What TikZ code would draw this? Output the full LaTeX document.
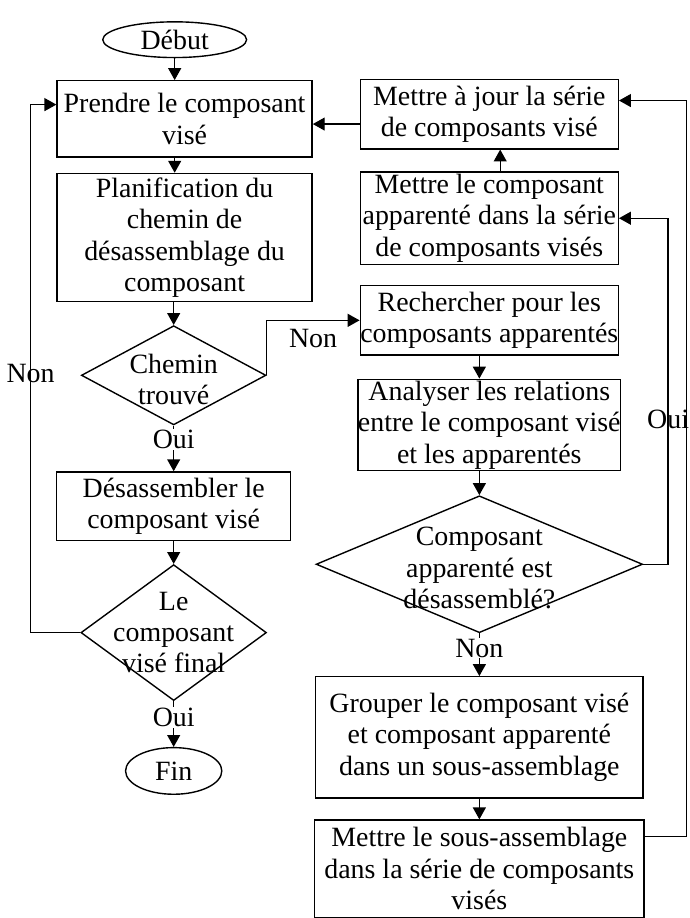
\documentclass[tikz,border=0pt]{standalone}
\usepackage{fontspec}
\setmainfont{Liberation Serif}
\usetikzlibrary{shapes,arrows.meta,positioning}

\begin{document}
\begin{tikzpicture}[
    x=0.02cm, y=-0.02cm,
    font=\fontsize{16}{18}\selectfont,
    node distance=0.4cm,
    box/.style={rectangle, draw, line width=0.8pt, inner sep=0pt, align=center},
    terminal/.style={ellipse, draw, line width=0.8pt, inner sep=0pt},
    decision/.style={diamond, draw, line width=0.8pt, inner sep=0pt},
    dtext/.style={align=center, inner sep=0pt},
    tag/.style={inner sep=0.5pt},
    arrow/.style={-{Triangle[length=0.24cm,width=0.26cm]}, line width=0.8pt}
]
    \fill[white] (0,0) rectangle (693,918);

    % Left column
    \node[terminal, minimum width=2.9cm, minimum height=0.72cm] (debut) at (176,40) {Début};
    \node[box, minimum width=5.14cm, minimum height=1.54cm, below=0.44cm of debut, xshift=0.2cm] (prendre) {Prendre le composant\\visé};
    \node[box, minimum width=5.14cm, minimum height=2.58cm, below=0.3cm of prendre] (planif) {Planification du\\chemin de\\désassemblage du\\composant};
    \node[decision, minimum width=3.72cm, minimum height=2cm, below=0.46cm of planif, xshift=-0.22cm] (chemin) {};
    \node[dtext] (chemintxt) at ([yshift=-0.08cm]chemin) {Chemin\\trouvé};
    \node[box, minimum width=4.72cm, minimum height=1.38cm, below=0.92cm of chemin] (desass) {Désassembler le\\composant visé};
    \node[decision, minimum width=3.74cm, minimum height=2.74cm, below=0.46cm of desass] (final) {};
    \node[dtext] (finaltxt) at (final) {Le\\composant\\visé final};
    \node[terminal, minimum width=1.94cm, minimum height=0.94cm, below=0.92cm of final] (fin) {Fin};

    % Right column
    \node[box, minimum width=5.2cm, minimum height=1.4cm] (majour) at (493,115) {Mettre à jour la série\\de composants visé};
    \node[box, minimum width=5.2cm, minimum height=1.86cm, below=0.44cm of majour] (mettrecomp) {Mettre le composant\\apparenté dans la série\\de composants visés};
    \node[box, minimum width=5.2cm, minimum height=1.4cm, below=0.4cm of mettrecomp] (recherche) {Rechercher pour les\\composants apparentés};
    \node[box, minimum width=5.2cm, minimum height=1.84cm, below=0.46cm of recherche] (analyse) {Analyser les relations\\entre le composant visé\\et les apparentés};
    \node[decision, minimum width=6.58cm, minimum height=2.76cm, below=0.48cm of analyse, xshift=-0.2cm] (desok) {};
    \node[dtext] (desoktxt) at ([yshift=-0.08cm]desok) {Composant\\apparenté est\\désassemblé?};
    \node[box, minimum width=6.6cm, minimum height=2.44cm, below=0.86cm of desok] (groupe) {Grouper le composant visé\\et composant apparenté\\dans un sous-assemblage};
    \node[box, minimum width=6.64cm, minimum height=1.96cm, below=0.42cm of groupe] (sousass) {Mettre le sous-assemblage\\dans la série de composants\\visés};

    % Edges, left column
    \draw[arrow] (debut) -- (debut |- prendre.north);
    \draw[arrow] (prendre.south -| debut) -- (planif.north -| debut);
    \draw[arrow] (planif.south -| chemin) -- (chemin);
    \draw[arrow] (chemin) -- node[tag, pos=0.3, fill=white] {Oui} (desass);
    \draw[arrow] (desass) -- (final);
    \draw[arrow] (final) -- node[tag, pos=0.35, fill=white] {Oui} (fin);
    \draw[arrow] (final.west) -- ++(-1cm,0) |- node[tag, pos=0.245] {Non} ([yshift=0.29cm]prendre.west);
    \draw[arrow] (chemin.east) |- node[tag, pos=0.75, below=0.15cm] {Non} (recherche.west);

    % Edges, right column
    \draw[arrow] ([yshift=-0.2cm]majour.west) -- ([yshift=-0.2cm]majour.west -| prendre.east);
    \draw[arrow] ([xshift=0.22cm]mettrecomp.north) -- ([xshift=0.22cm]mettrecomp.north |- majour.south);
    \draw[arrow] (recherche.south -| desok) -- (analyse.north -| desok);
    \draw[arrow] (analyse.south -| desok) -- (desok);
    \draw[arrow] (desok.east) -- ++(0.5cm,0) |- node[tag, pos=0.21] {Oui} (mettrecomp.east);
    \draw[arrow] (desok) -- node[tag, pos=0.35, fill=white] {Non} (groupe);
    \draw[arrow] (groupe) -- (sousass);
    \draw[arrow] ([yshift=-0.34cm]sousass.north east) -- ++(0.84cm,0) |- ([yshift=-0.44cm]majour.north east);
\end{tikzpicture}
\end{document}
